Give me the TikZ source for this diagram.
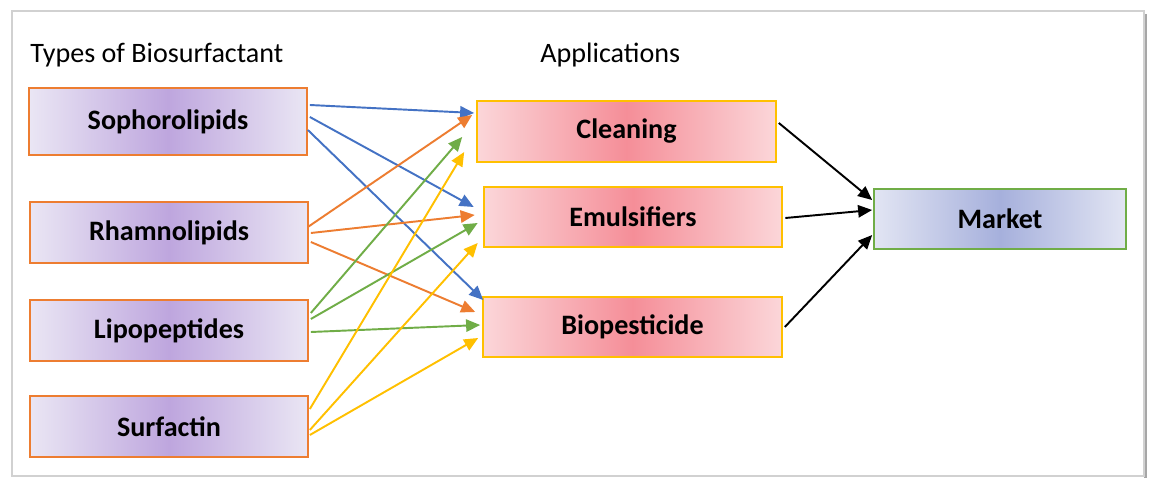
\documentclass[tikz,border=0pt]{standalone}
\usepackage{fontspec}
\setmainfont{Carlito}
\usetikzlibrary{arrows.meta,calc}
\definecolor{msblue}{RGB}{68,114,196}
\definecolor{msorange}{RGB}{237,125,49}
\definecolor{msgreen}{RGB}{112,173,71}
\definecolor{msyellow}{RGB}{255,192,0}
\definecolor{lilac}{RGB}{190,166,222}
\definecolor{lilacedge}{RGB}{234,230,244}
\definecolor{rose}{RGB}{245,142,152}
\definecolor{roseedge}{RGB}{251,214,217}
\definecolor{slate}{RGB}{166,176,220}
\definecolor{slateedge}{RGB}{226,229,243}
\tikzset{
	typebox/.style = {draw = msorange, line width = 1pt, left color = lilacedge, right color = lilacedge, middle color = lilac,
		minimum width = 5.56cm, minimum height = 1.22cm, font = \fontsize{16}{19}\selectfont\bfseries},
	appbox/.style = {left color = roseedge, right color = roseedge, middle color = rose,
		minimum width = 5.96cm, minimum height = 1.2cm, font = \fontsize{16}{19}\selectfont\bfseries},
	marketbox/.style = {draw = msgreen, line width = 1pt, left color = slateedge, right color = slateedge, middle color = slate,
		minimum width = 5.04cm, minimum height = 1.2cm, font = \fontsize{16}{19}\selectfont\bfseries},
	heading/.style = {anchor = base west, inner sep = 0pt, font = \fontsize{16}{19}\selectfont},
	link/.style = {line width = 1.1pt, -{Triangle[length = 8pt, width = 7pt]}}
}
\begin{document}
\begin{tikzpicture}[x = 0.02cm, y = -0.02cm]
	\useasboundingbox[fill = white] (0, 0) rectangle (1151, 479);
	% frame with its shadow
	\fill[black!35] (1144, 14) rectangle (1147, 478);
	\draw[black!18, line width = 0.8pt] (12, 11) rectangle (1144, 476);
	% headings
	\node[heading] (types) at (30, 63) {Types of Biosurfactant};
	\node[heading] (apps) at (540, 63) {Applications};
	% boxes
	\node[typebox, minimum height = 1.34cm] (soph) at (168, 121.5) {Sophorolipids};
	\foreach \name/\y/\txt in {rham/232.5/Rhamnolipids, lipo/330.5/Lipopeptides, surf/426.5/Surfactin}{
		\node[typebox] (\name) at (169, \y) {\txt};}
	\foreach \name/\x/\y/\txt in {clean/626.5/131.5/Cleaning, emul/633/217/Emulsifiers, biop/632.5/327/Biopesticide}{
		\node[appbox] (\name) at (\x, \y) {\txt};
		\draw[msyellow, line width = 1pt] (\name.south west) rectangle (\name.north east);}
	\node[marketbox] (market) at (1000, 219) {Market};
	% coloured links
	\foreach \a/\ax/\ay/\b/\bx/\by/\c in {
		soph/2/-16.5/clean/-3/-18.5/msblue, soph/2/-4.5/emul/-10/-10/msblue, soph/0/8.5/biop/0/-27/msblue,
		rham/-1/-5.5/clean/-5/-16.5/msorange, rham/2/0.5/emul/-9/-2/msorange, rham/2/9.5/biop/-8/-15/msorange,
		lipo/2/-17.5/clean/-15/5.5/msgreen, lipo/2/-11.5/emul/-6/6/msgreen, lipo/2/1.5/biop/-3/-2/msgreen,
		surf/1/-17.5/clean/-13/20.5/msyellow, surf/1/3.5/emul/-6/26/msyellow, surf/1/8.5/biop/-5/11/msyellow}{
		\draw[link, draw = \c] ($(\a.east) + (\ax, \ay)$) -- ($(\b.west) + (\bx, \by)$);}
	% to market
	\foreach \a/\ay/\my in {clean/-8.5/-19, emul/1/-9, biop/0/16}{
		\draw[link, draw = black] ($(\a.east) + (3, \ay)$) -- ($(market.west) + (-1, \my)$);}
\end{tikzpicture}
\end{document}
